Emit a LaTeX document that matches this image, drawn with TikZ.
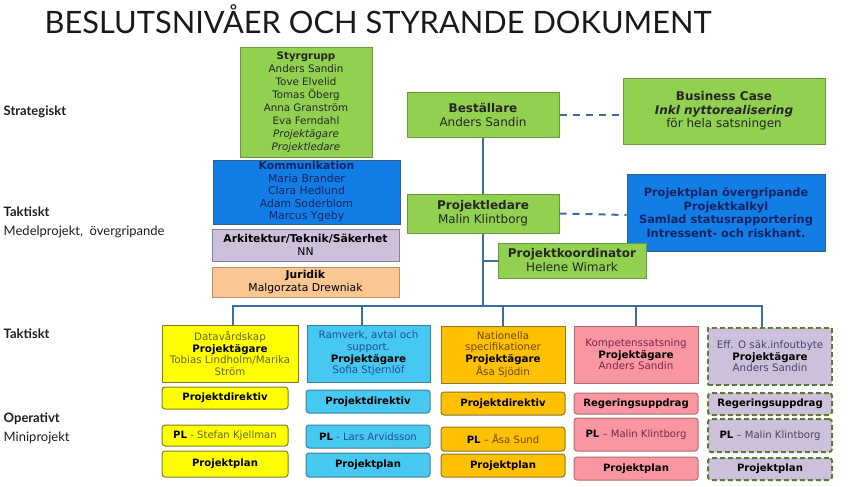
\documentclass[tikz,border=0pt]{standalone}
\usepackage{fontspec}
\setmainfont{DejaVu Sans}
\newfontfamily\gillfont{Lato}
\usetikzlibrary{arrows,positioning}

\definecolor{grn}{RGB}{146,208,80}
\definecolor{grnline}{RGB}{110,150,60}
\definecolor{blu}{RGB}{18,125,228}
\definecolor{bluline}{RGB}{50,95,135}
\definecolor{navy}{RGB}{20,35,100}
\definecolor{lav}{RGB}{204,192,218}
\definecolor{lavline}{RGB}{140,130,150}
\definecolor{peach}{RGB}{250,198,146}
\definecolor{peachline}{RGB}{185,145,95}
\definecolor{yel}{RGB}{255,255,0}
\definecolor{yelline}{RGB}{125,125,40}
\definecolor{lblu}{RGB}{70,200,240}
\definecolor{lbluline}{RGB}{60,130,150}
\definecolor{ora}{RGB}{255,192,0}
\definecolor{oraline}{RGB}{140,120,40}
\definecolor{pnk}{RGB}{250,150,162}
\definecolor{pnkline}{RGB}{175,110,110}
\definecolor{dashgrn}{RGB}{90,125,50}
\definecolor{connblue}{RGB}{60,110,160}
\definecolor{labelgray}{RGB}{30,30,30}
\definecolor{nmA}{RGB}{100,100,30}
\definecolor{nmB}{RGB}{30,80,150}
\definecolor{nmC}{RGB}{110,70,10}
\definecolor{nmD}{RGB}{120,40,70}
\definecolor{nmE}{RGB}{70,70,110}

\newcommand{\hd}[1]{\textcolor{black}{\textbf{#1}}}

\begin{document}
\begin{tikzpicture}[x=1pt,y=-1pt,thick,
  base node/.style={rectangle,draw,align=center,inner sep=0pt,line width=1pt},
  green node/.style={base node,fill=grn,draw=grnline,text=black!85,font=\fontsize{12}{14}\selectfont},
  blue node/.style={base node,fill=blu,draw=bluline,text=navy},
  proj node/.style={base node,font=\fontsize{10.3}{11.6}\selectfont},
  doc node/.style={base node,rounded corners=3pt,font=\fontsize{10.1}{11}\selectfont},
  colA/.style={fill=yel,draw=yelline,text=nmA},
  colB/.style={fill=lblu,draw=lbluline,text=nmB},
  colC/.style={fill=ora,draw=oraline,text=nmC},
  colD/.style={fill=pnk,draw=pnkline,text=nmD},
  colE/.style={fill=lav,draw=dashgrn,text=nmE,line width=2pt,dash pattern=on 5pt off 3pt},
  level/.style={anchor=west,align=left,text=labelgray,font=\gillfont\fontsize{13}{19}\selectfont},
  conn/.style={draw=connblue,line width=2pt},
  dashline/.style={conn,dash pattern=on 7pt off 6pt}]

\useasboundingbox (0,0) rectangle (851,487);

% title and levels
\node[anchor=base west,font=\gillfont\fontsize{30.8}{34}\selectfont,text=black!90] (title) at (41,34) {BESLUTSNIVÅER OCH STYRANDE DOKUMENT};
\node[level] (strat) at (0,112) {\textbf{Strategiskt}};
\node[level] (takt1) at (0,222.5) {\textbf{Taktiskt}\\Medelprojekt,~ övergripande};
\node[level] (takt2) at (0,334) {\textbf{Taktiskt}};
\node[level] (oper) at (0,428.5) {\textbf{Operativt}\\Miniprojekt};

% left stack
\node[green node,minimum width=132,minimum height=109,font=\fontsize{10.3}{13}\selectfont] (styr) at (306,102.5)
  {\textbf{Styrgrupp}\\Anders Sandin\\Tove Elvelid\\Tomas Öberg\\Anna Granström\\Eva Ferndahl\\\textit{Projektägare}\\\textit{Projektledare}};
\node[blue node,minimum width=187,minimum height=64,font=\fontsize{10.8}{12.5}\selectfont] (komm) at (306.5,192)
  {\textbf{Kommunikation}\\Maria Brander\\Clara Hedlund\\Adam Soderblom\\Marcus Ygeby};
\node[base node,fill=lav,draw=lavline,minimum width=187,minimum height=32,font=\fontsize{10.8}{12.5}\selectfont] (arch) at (305.5,245)
  {\textbf{Arkitektur/Teknik/Säkerhet}\\NN};
\node[base node,fill=peach,draw=peachline,minimum width=187,minimum height=30,font=\fontsize{10.8}{12.5}\selectfont] (jur) at (305.5,282)
  {\textbf{Juridik}\\Malgorzata Drewniak};

% middle and right
\node[green node,minimum width=152,minimum height=45] (best) at (483,114.5) {\textbf{Beställare}\\Anders Sandin};
\node[green node,minimum width=202,minimum height=66,font=\fontsize{12}{13.5}\selectfont] (bcase) at (724,111)
  {\textbf{Business Case}\\\textbf{\textit{Inkl nyttorealisering}}\\för hela satsningen};
\node[green node,minimum width=152,minimum height=39] (pled) at (483,213.5) {\textbf{Projektledare}\\Malin Klintborg};
\node[blue node,minimum width=198,minimum height=77,font=\bfseries\fontsize{11.4}{13.5}\selectfont] (pplan) at (726,212.5)
  {Projektplan övergripande\\Projektkalkyl\\Samlad statusrapportering\\Intressent- och riskhant.};
\node[green node,minimum width=148,minimum height=35] (koord) at (572,260.5) {\textbf{Projektkoordinator}\\Helene Wimark};

% projects
\node[proj node,colA,minimum width=136,minimum height=57] (p1) at (230,353.5)
  {Datavårdskap\\\hd{Projektägare}\\Tobias Lindholm/Marika\\Ström};
\node[proj node,colB,minimum width=123,minimum height=57] (p2) at (368.5,353.5)
  {Ramverk, avtal och\\support.\\\hd{Projektägare}\\Sofia Stjernlöf};
\node[proj node,colC,minimum width=124,minimum height=57] (p3) at (503,354.5)
  {Nationella\\specifikationer\\\hd{Projektägare}\\Åsa Sjödin};
\node[proj node,colD,minimum width=124,minimum height=57] (p4) at (636,354.5)
  {Kompetenssatsning\\\hd{Projektägare}\\Anders Sandin};
\node[proj node,colE,minimum width=124,minimum height=57] (p5) at (770,356.5)
  {Eff. O säk.infoutbyte\\\hd{Projektägare}\\Anders Sandin};

\node[doc node,colA,minimum width=126,minimum height=22] (d1) at (225,398) {\hd{Projektdirektiv}};
\node[doc node,colB,minimum width=124,minimum height=23] (d2) at (368,401.5) {\hd{Projektdirektiv}};
\node[doc node,colC,minimum width=124,minimum height=23] (d3) at (503,403.5) {\hd{Projektdirektiv}};
\node[doc node,colD,minimum width=124,minimum height=21] (d4) at (636,403.5) {\hd{Regeringsuppdrag}};
\node[doc node,colE,minimum width=124,minimum height=22] (d5) at (770,404) {\hd{Regeringsuppdrag}};

\node[doc node,colA,minimum width=126,minimum height=21] (l1) at (225,435.5) {\hd{PL} - Stefan Kjellman};
\node[doc node,colB,minimum width=124,minimum height=23] (l2) at (368,436.5) {\hd{PL} - Lars Arvidsson};
\node[doc node,colC,minimum width=124,minimum height=24] (l3) at (503,439) {\hd{PL} – Åsa Sund};
\node[doc node,colD,minimum width=124,minimum height=33] (l4) at (636,434.5) {\hd{PL} – Malin Klintborg};
\node[doc node,colE,minimum width=124,minimum height=33] (l5) at (770,435.5) {\hd{PL} – Malin Klintborg};

\node[doc node,colA,minimum width=126,minimum height=26] (s1) at (225,464) {\hd{Projektplan}};
\node[doc node,colB,minimum width=124,minimum height=24] (s2) at (368,465) {\hd{Projektplan}};
\node[doc node,colC,minimum width=124,minimum height=23] (s3) at (503,465.5) {\hd{Projektplan}};
\node[doc node,colD,minimum width=124,minimum height=23] (s4) at (636,468.5) {\hd{Projektplan}};
\node[doc node,colE,minimum width=124,minimum height=22] (s5) at (770,469) {\hd{Projektplan}};

% connectors
\coordinate (bus) at (483,306);
\coordinate (kjoin) at (pled.south |- koord.west);
\path[conn]
  (best) edge (pled)
  (pled) edge (bus)
  (kjoin) edge (koord.west);
\path[dashline]
  (best.east) edge (best.east -| bcase.west)
  (pled.east) edge ([yshift=-1.5pt]pled.east -| pplan.west);
\draw[conn] ([xshift=3pt]p1.north) |- (bus) -| ([xshift=-8pt]p5.north);
\draw[conn] ([xshift=-7pt]p2.north) -- ([xshift=-7pt]p2.north |- bus);
\draw[conn] (p3.north) -- (p3.north |- bus);
\draw[conn] (p4.north) -- (p4.north |- bus);
\end{tikzpicture}
\end{document}
